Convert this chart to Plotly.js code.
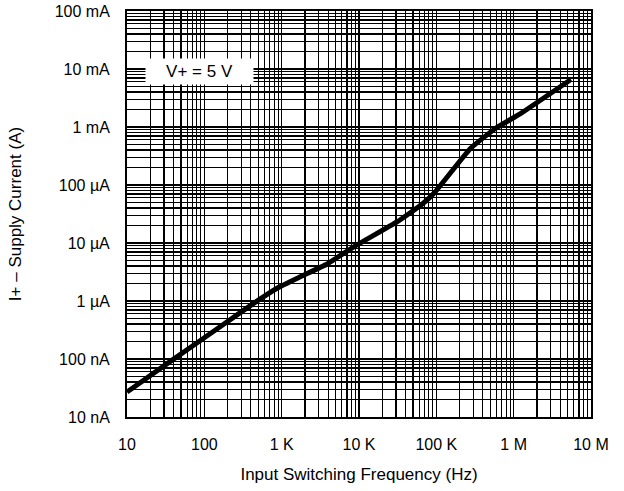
<!DOCTYPE html>
<html>
<head>
<meta charset="utf-8">
<script src="https://cdn.plot.ly/plotly-3.0.1.min.js"></script>
<style>
  html, body { margin: 0; padding: 0; background: #fff; }
  #chart { width: 624px; height: 491px; }
</style>
</head>
<body>
<div id="chart"></div>
<script>
// Data (frequency in Hz, supply current in A)
const freqHz = [10, 36, 160, 434, 871, 1745, 3874, 8570, 31300, 65900, 93200, 278000, 587000, 1240000, 5500000];
const currentA = [2.7e-8, 9.0e-8, 3.6e-7, 9.1e-7, 1.66e-6, 2.62e-6, 4.35e-6, 8.6e-6, 2.33e-5, 4.7e-5, 7.2e-5, 4.3e-4, 9.5e-4, 1.72e-3, 6.6e-3];

const xTickVals = [10, 100, 1e3, 1e4, 1e5, 1e6, 1e7];
const xTickText = ["10", "100", "1 K", "10 K", "100 K", "1 M", "10 M"];
const yTickVals = [1e-1, 1e-2, 1e-3, 1e-4, 1e-5, 1e-6, 1e-7, 1e-8];
const yTickText = ["100 mA", "10 mA", "1 mA", "100 µA", "10 µA", "1 µA", "100 nA", "10 nA"];

const fontFam = "Liberation Sans, Arial, Helvetica, sans-serif";

const trace = {
  x: freqHz,
  y: currentA,
  type: "scatter",
  mode: "lines",
  line: { color: "#000", width: 5, shape: "spline", smoothing: 0.4 },
  hoverinfo: "x+y",
  showlegend: false
};

const axisCommon = {
  type: "log",
  showgrid: true,
  gridcolor: "#000",
  gridwidth: 1.2,
  showline: true,
  linecolor: "#000",
  linewidth: 2,
  mirror: true,
  ticks: "",
  zeroline: false,
  tickfont: { family: fontFam, size: 16, color: "#000" },
  ticklabelstandoff: 12,
  minor: { dtick: "D1", showgrid: true, gridcolor: "#000", gridwidth: 1.2, ticks: "" },
  fixedrange: true
};

const layout = {
  width: 624,
  height: 491,
  margin: { l: 127, r: 33, t: 11, b: 74 },
  paper_bgcolor: "#fff",
  plot_bgcolor: "#fff",
  font: { family: fontFam, size: 16, color: "#000" },
  xaxis: Object.assign({}, axisCommon, {
    range: [1, 7],
    tickvals: xTickVals,
    ticktext: xTickText,
    title: { text: "Input Switching Frequency (Hz)", font: { family: fontFam, size: 17, color: "#000" }, standoff: 16 }
  }),
  yaxis: Object.assign({}, axisCommon, {
    range: [-8, -1],
    tickvals: yTickVals,
    ticktext: yTickText,
    title: { text: "I+ – Supply Current (A)", font: { family: fontFam, size: 17, color: "#000" }, standoff: 29 }
  }),
  annotations: [{
    xref: "paper", yref: "paper",
    x: 0.156, y: 0.851,
    xanchor: "center", yanchor: "middle",
    text: "V+ = 5 V",
    showarrow: false,
    bgcolor: "#fff",
    width: 105, height: 23,
    font: { family: fontFam, size: 17, color: "#000" }
  }]
};

Plotly.newPlot("chart", [trace], layout, { displayModeBar: false, staticPlot: true });
</script>
</body>
</html>
